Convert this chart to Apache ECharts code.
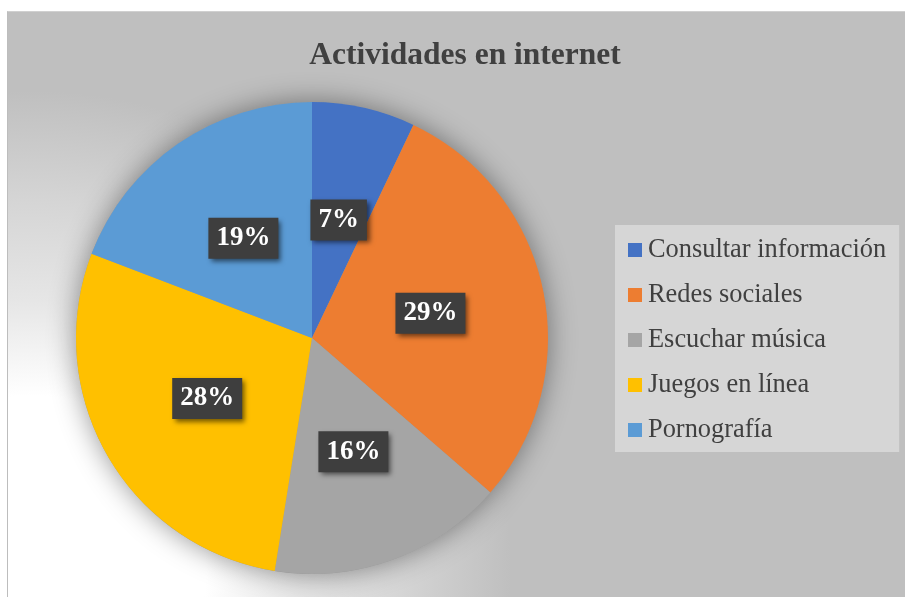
<!DOCTYPE html>
<html>
<head>
<meta charset="utf-8">
<script src="https://cdn.jsdelivr.net/npm/echarts@6/dist/echarts.min.js"></script>
<style>
  html, body { margin: 0; padding: 0; background: #ffffff; }
  #bg {
    position: absolute; left: 7px; top: 11px; width: 898px; height: 586px;
    box-sizing: border-box;
    border-left: 1px solid #BDBDBD; border-top: 1px solid #D0D0D0;
    background: radial-gradient(circle at 23px 559px, #ffffff 0px, #ffffff 175px, #e6e6e6 270px, #d5d5d5 370px, #bfbfbf 480px);
  }
  #chart { position: absolute; left: 0; top: 0; width: 905px; height: 597px; }
</style>
</head>
<body>
<div id="bg"></div>
<div id="chart"></div>
<script>
const titleText = 'Actividades en internet';
const categories = ['Consultar información', 'Redes sociales', 'Escuchar música', 'Juegos en línea', 'Pornografía'];
const values = [7, 29, 16, 28, 19];
const colors = ['#4472C4', '#ED7D31', '#A5A5A5', '#FFC000', '#5B9BD5'];

const total = values.reduce((a, b) => a + b, 0);
const serif = '"Liberation Serif", "Times New Roman", serif';

const chart = echarts.init(document.getElementById('chart'), null, { renderer: 'canvas' });
chart.setOption({
  animation: false,
  backgroundColor: 'transparent',
  title: {
    text: titleText,
    left: 460, textAlign: 'center',
    top: 35,
    textStyle: { fontFamily: serif, fontWeight: 'bold', fontSize: 31.5, color: '#404040' }
  },
  legend: {
    orient: 'vertical',
    left: 615, top: 225,
    padding: [12, 13, 9, 13],
    backgroundColor: '#D6D6D6',
    itemWidth: 14, itemHeight: 14, itemGap: 19,
    icon: 'rect',
    selectedMode: false,
    data: categories,
    textStyle: { fontFamily: serif, fontSize: 26.4, color: '#404040', padding: [0, 0, 0, 1] }
  },
  series: [
    {
      type: 'pie',
      silent: true,
      z: 1,
      center: [312, 338],
      radius: 236,
      label: { show: false },
      labelLine: { show: false },
      itemStyle: { color: '#999999', shadowBlur: 28, shadowColor: 'rgba(0,0,0,0.42)' },
      data: [{ name: '', value: total }]
    },
    {
      type: 'pie',
      z: 2,
      center: [312, 338],
      radius: 236,
      startAngle: 90,
      clockwise: true,
      emphasis: { disabled: true },
      labelLine: { show: false },
      data: categories.map((c, i) => ({ name: c, value: values[i], itemStyle: { color: colors[i] } })),
      label: {
        show: true,
        position: 'inside',
        formatter: (p) => p.value + '%',
        fontFamily: serif,
        fontWeight: 'bold',
        fontSize: 27,
        color: '#ffffff',
        backgroundColor: '#3E3E3E',
        padding: [8, 8, 6, 8],
        shadowColor: 'rgba(0,0,0,0.55)',
        shadowBlur: 5,
        shadowOffsetX: 3,
        shadowOffsetY: 3
      }
    }
  ]
});
</script>
</body>
</html>
